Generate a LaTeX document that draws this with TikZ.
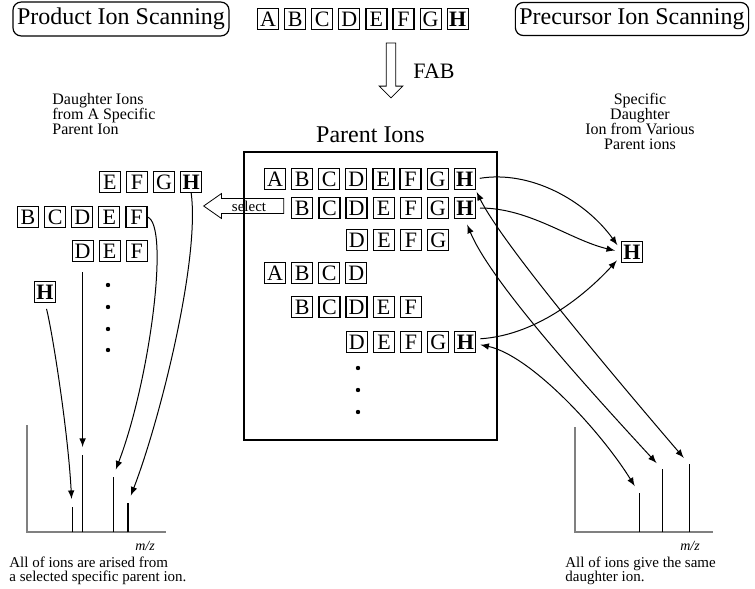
\documentclass[tikz,border=0pt]{standalone}
\usepackage{fontspec}
\setmainfont{Liberation Serif}
\usetikzlibrary{positioning,shapes.arrows}

\tikzset{
  ion/.style={draw, line width=.6pt, minimum size=10.5pt, inner sep=0pt,
    font=\fontsize{11}{11}\selectfont},
  heading/.style={draw, rounded corners=4pt, line width=.6pt, inner xsep=2pt,
    inner ysep=3pt, font=\fontsize{12}{12}\selectfont},
  note/.style={inner sep=0pt, font=\fontsize{8}{7.5}\selectfont},
  caption/.style={inner sep=0pt, font=\fontsize{7.5}{7}\selectfont},
  dot/.style={circle, fill, inner sep=0pt, minimum size=2.2pt},
  axis/.style={gray, line width=.8pt},
  peak/.style={line width=.5pt},
  link/.style={line width=.5pt, >=latex},
}

\begin{document}
\begin{tikzpicture}[x=0.5pt, y=-0.5pt, node distance=2.45pt]
\useasboundingbox (0,0) rectangle (755,589);

\node[heading] (prod) at (121,19) {Product Ion Scanning};
\node[heading] (prec) at (632,19) {Precursor Ion Scanning};

% sample molecule
\node[ion] (ta) at (268,19) {A};
\node[ion, right=of ta] (tb) {B};
\node[ion, right=of tb] (tc) {C};
\node[ion, right=of tc] (td) {D};
\node[ion, right=of td] (te) {E};
\node[ion, right=of te] (tf) {F};
\node[ion, right=of tf] (tg) {G};
\node[ion, right=of tg] (th) {\textbf{H}};

\node[single arrow, draw, shape border rotate=270, minimum height=27.5pt,
  inner sep=2.2pt, single arrow head extend=3.5pt] (fabarr) at (391,68) {};
\node[font=\fontsize{11}{11}\selectfont] (fab) at (434,71) {FAB};

% parent ions
\node[draw, line width=.6pt, minimum width=126.5pt, minimum height=144pt] (pbox) at (370.5,296) {};
\node[font=\fontsize{12}{12}\selectfont, above=1pt of pbox] (ptitle) {Parent Ions};

\node[ion] (p1a) at (275,179) {A};
\node[ion, right=of p1a] (p1b) {B};
\node[ion, right=of p1b] (p1c) {C};
\node[ion, right=of p1c] (p1d) {D};
\node[ion, right=of p1d] (p1e) {E};
\node[ion, right=of p1e] (p1f) {F};
\node[ion, right=of p1f] (p1g) {G};
\node[ion, right=of p1g] (p1h) {\textbf{H}};

\node[ion] (p2b) at (302.3,208) {B};
\node[ion, right=of p2b] (p2c) {C};
\node[ion, right=of p2c] (p2d) {D};
\node[ion, right=of p2d] (p2e) {E};
\node[ion, right=of p2e] (p2f) {F};
\node[ion, right=of p2f] (p2g) {G};
\node[ion, right=of p2g] (p2h) {\textbf{H}};

\node[ion] (p3d) at (356.9,240) {D};
\node[ion, right=of p3d] (p3e) {E};
\node[ion, right=of p3e] (p3f) {F};
\node[ion, right=of p3f] (p3g) {G};

\node[ion] (p4a) at (275,273) {A};
\node[ion, right=of p4a] (p4b) {B};
\node[ion, right=of p4b] (p4c) {C};
\node[ion, right=of p4c] (p4d) {D};

\node[ion] (p5b) at (302.3,307) {B};
\node[ion, right=of p5b] (p5c) {C};
\node[ion, right=of p5c] (p5d) {D};
\node[ion, right=of p5d] (p5e) {E};
\node[ion, right=of p5e] (p5f) {F};

\node[ion] (p6d) at (356.9,342) {D};
\node[ion, right=of p6d] (p6e) {E};
\node[ion, right=of p6e] (p6f) {F};
\node[ion, right=of p6f] (p6g) {G};
\node[ion, right=of p6g] (p6h) {\textbf{H}};

\node[dot] (pd1) at (358,368) {};
\node[dot] (pd2) at (358,390) {};
\node[dot] (pd3) at (358,412) {};

\node[single arrow, draw, shape border rotate=180, single arrow tip angle=70,
  single arrow head extend=2.5pt, inner xsep=2pt, inner ysep=.9pt,
  minimum height=40pt, font=\fontsize{7.5}{7.5}\selectfont] (sel) at (249,206) {select};

% daughter ions of one parent
\node[note, align=left, anchor=north west] (dtext) at (52,93) {Daughter Ions\\from A Specific\\Parent Ion};

\node[ion] (d1e) at (109.9,182) {E};
\node[ion, right=of d1e] (d1f) {F};
\node[ion, right=of d1f] (d1g) {G};
\node[ion, right=of d1g] (d1h) {\textbf{H}};

\node[ion] (d2b) at (28,217) {B};
\node[ion, right=of d2b] (d2c) {C};
\node[ion, right=of d2c] (d2d) {D};
\node[ion, right=of d2d] (d2e) {E};
\node[ion, right=of d2e] (d2f) {F};

\node[ion] (d3d) at (82.6,251) {D};
\node[ion, right=of d3d] (d3e) {E};
\node[ion, right=of d3e] (d3f) {F};

\node[ion] (d4h) at (45,292) {\textbf{H}};

\node[dot] (ld1) at (108,285) {};
\node[dot] (ld2) at (108,307) {};
\node[dot] (ld3) at (108,329) {};
\node[dot] (ld4) at (108,350) {};

% one daughter ion from many parents
\node[note, align=center, anchor=north] (stext) at (640,93) {Specific\\Daughter\\Ion from Various\\Parent ions};
\node[ion] (hh) at (632,252) {\textbf{H}};

% product ion spectrum
\draw[axis] (27,425) -- (27,532) -- (166,532);
\coordinate (lp1) at (72,507);
\coordinate (lp2) at (82.6,455);
\coordinate (lp3) at (113,477);
\coordinate (lp4) at (128,503);
\draw[peak] (72,532) -- (lp1);
\draw[peak] (82.6,532) -- (lp2);
\draw[peak] (113,532) -- (lp3);
\draw[line width=1pt] (128,532) -- (lp4);
\node[font=\fontsize{7}{7}\itshape] (lmz) at (145,546) {m/z};
\node[caption, align=left, anchor=north west] (lcap) at (9,557) {All of ions are arised from\\a selected specific parent ion.};

% precursor ion spectrum
\draw[axis] (575,427) -- (575,532) -- (713,532);
\coordinate (rp1) at (639,493);
\coordinate (rp2) at (662,469);
\coordinate (rp3) at (689,464);
\draw[peak] (639,532) -- (rp1);
\draw[peak] (662,532) -- (rp2);
\draw[peak] (689,532) -- (rp3);
\node[font=\fontsize{7}{7}\itshape] (rmz) at (690,546) {m/z};
\node[caption, align=left, anchor=north west] (rcap) at (565,557) {All of ions give the same\\daughter ion.};

% left connectors
\draw[link, ->, shorten <=3pt, shorten >=4pt] (d4h.south) .. controls (52,330) and (68,430) .. (lp1);
\draw[link, ->, shorten <=5pt, shorten >=4pt] (d3d.south) -- (lp2);
\draw[link, ->, shorten >=4pt] (d2f.east) .. controls (170,225) and (150,380) .. (lp3);
\draw[link, ->, shorten >=4pt] (d1h.south) .. controls (200,260) and (160,420) .. (lp4);

% right connectors
\draw[link, ->, shorten <=2pt, shorten >=3pt] (p1h.east) .. controls (530,170) and (585,200) .. (hh.170);
\draw[link, ->, shorten <=2pt, shorten >=3pt] (p2h.east) .. controls (530,208) and (570,240) .. (hh.west);
\draw[link, ->, shorten <=2pt, shorten >=3pt] (p6h.15) .. controls (540,335) and (590,290) .. (hh.200);
\draw[link, <->, shorten <=1pt, shorten >=4pt] (p1h.south east) .. controls (500,240) and (600,360) .. (rp3);
\draw[link, <->, shorten <=3pt, shorten >=4pt] (p2h.south) .. controls (490,280) and (580,380) .. (rp2);
\draw[link, <->, shorten <=2pt, shorten >=4pt] (p6h.-10) .. controls (530,355) and (600,430) .. (rp1);
\end{tikzpicture}
\end{document}
